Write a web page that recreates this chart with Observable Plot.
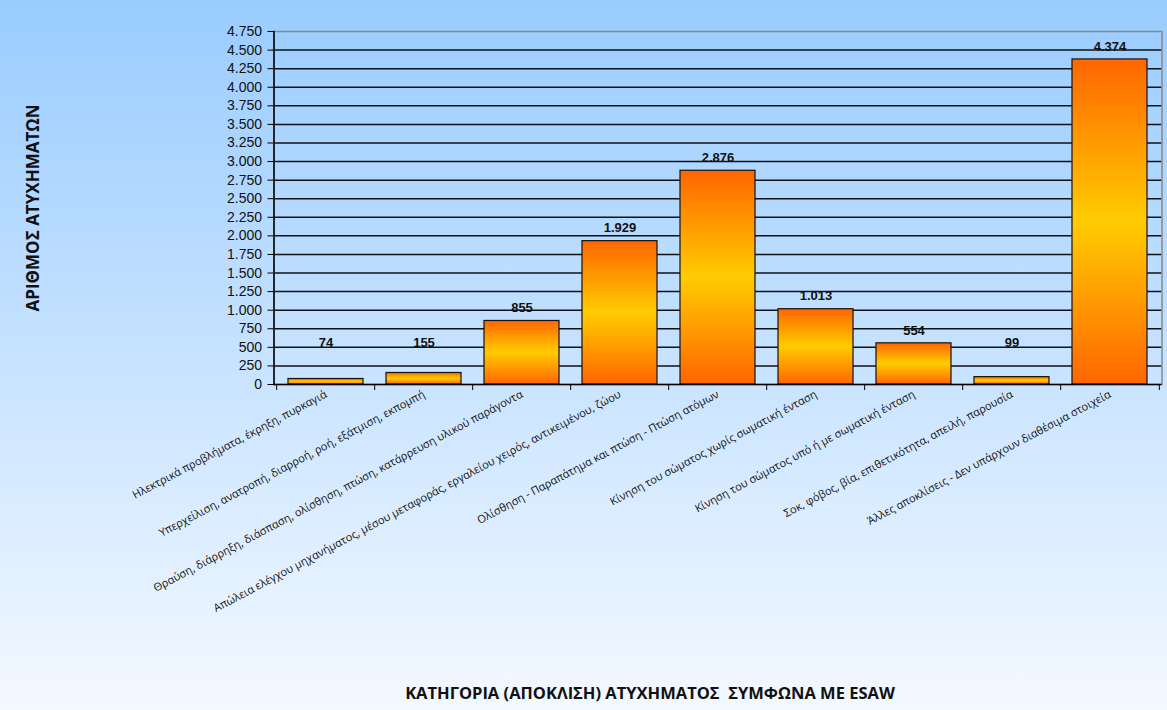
<!DOCTYPE html>
<html>
<head>
<meta charset="utf-8">
<script src="https://cdn.jsdelivr.net/npm/d3@7"></script>
<script src="https://cdn.jsdelivr.net/npm/@observablehq/plot@0.6"></script>
<style>
  html, body { margin: 0; padding: 0; background: #f4f9ff; }
  #chart svg { display: block; }
</style>
</head>
<body>
<div id="chart"></div>
<script>
const categories = [
  "Ηλεκτρικά προβλήματα, έκρηξη, πυρκαγιά",
  "Υπερχείλιση, ανατροπή, διαρροή, ροή, εξάτμιση, εκπομπή",
  "Θραύση, διάρρηξη, διάσπαση, ολίσθηση, πτώση, κατάρρευση υλικού παράγοντα",
  "Απώλεια ελέγχου μηχανήματος, μέσου μεταφοράς, εργαλείου χειρός, αντικειμένου, ζώου",
  "Ολίσθηση - Παραπάτημα και πτώση - Πτώση ατόμων",
  "Κίνηση του σώματος χωρίς σωματική ένταση",
  "Κίνηση του σώματος υπό ή με σωματική ένταση",
  "Σοκ, φόβος, βία, επιθετικότητα, απειλή, παρουσία",
  "Άλλες αποκλίσεις - Δεν υπάρχουν διαθέσιμα στοιχεία"
];
const values = [74, 155, 855, 1929, 2876, 1013, 554, 99, 4374];
const yTicks = d3.range(0, 4751, 250);
const yTitle = "ΑΡΙΘΜΟΣ ΑΤΥΧΗΜΑΤΩΝ";
const xTitle = "ΚΑΤΗΓΟΡΙΑ (ΑΠΟΚΛΙΣΗ) ΑΤΥΧΗΜΑΤΟΣ  ΣΥΜΦΩΝΑ ΜΕ ESAW";

const data = categories.map((c, i) => ({cat: c, value: values[i]}));
const fmt = d3.formatLocale({decimal: ",", thousands: ".", grouping: [3], currency: ["", ""]}).format(",d");

const W = 1167, H = 710;
const mL = 273.5, mR = W - 1161.5, mT = 31, mB = H - 384;
const half = (W - mL - mR) / categories.length / 2;

const defs = () => {
  const ns = "http://www.w3.org/2000/svg";
  const d = document.createElementNS(ns, "defs");
  d.innerHTML = `<linearGradient id="fire" x1="0" y1="0" x2="0" y2="1">
      <stop offset="0" stop-color="#ff6600"/>
      <stop offset="0.5" stop-color="#ffcc00"/>
      <stop offset="1" stop-color="#ff6600"/>
    </linearGradient>`;
  return d;
};

const chart = Plot.plot({
  width: W, height: H,
  marginLeft: mL, marginRight: mR, marginTop: mT, marginBottom: mB,
  style: {background: "linear-gradient(#99ccff, #f4f9ff)", fontFamily: "Liberation Sans, Arial, sans-serif", color: "#111"},
  x: {domain: categories, paddingInner: 0.23, paddingOuter: 0.115, axis: null},
  y: {domain: [0, 4750], axis: null},
  marks: [
    defs,
    Plot.ruleY(yTicks.slice(1, -1), {stroke: "#111", strokeWidth: 1.5}),
    Plot.frame({stroke: "#888", strokeWidth: 1.5}),
    Plot.barY(data, {x: "cat", y: "value", fill: "url(#fire)", stroke: "#111", strokeWidth: 1.2}),
    Plot.ruleY([0], {stroke: "#000", strokeWidth: 1.5}),
    Plot.axisY({ticks: yTicks, tickFormat: fmt, tickSize: 6, tickPadding: 6, fontSize: 14, label: null, stroke: "#000"}),
    Plot.frame({anchor: "left", stroke: "#000", strokeWidth: 1.5}),
    Plot.axisX({tickSize: 6, tickFormat: () => "", dx: -half, label: null, stroke: "#000"}),
    Plot.axisX({ticks: categories.slice(-1), tickSize: 6, tickFormat: () => "", dx: half, label: null, stroke: "#000"}),
    Plot.axisX({tickSize: 0, tickPadding: 9, tickRotate: -28, fontSize: 11, fontFamily: "Open Sans", label: null, fill: "#111"}),
    Plot.text(data, {x: "cat", y: d => Math.max(d.value, 380), dy: -13, text: d => fmt(d.value), fontWeight: "bold", fontSize: 13, fill: "#111"}),
    Plot.text([yTitle], {frameAnchor: "left", textAnchor: "middle", dx: -240, rotate: -90, fontWeight: "bold", fontSize: 17, fontFamily: "Open Sans", fill: "#111"}),
    Plot.text([xTitle], {frameAnchor: "bottom", textAnchor: "middle", dy: 314, dx: -68, fontWeight: "bold", fontSize: 16.5, fontFamily: "Open Sans", fill: "#111"})
  ]
});
document.getElementById("chart").appendChild(chart);
</script>
</body>
</html>
